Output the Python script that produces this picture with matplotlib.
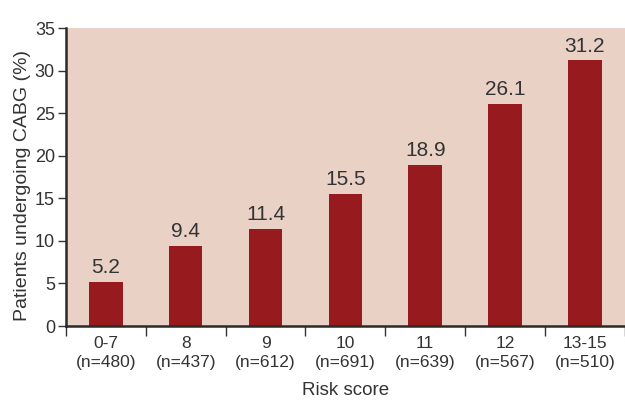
import matplotlib.pyplot as plt
import numpy as np

# CABG rate by risk score group
groups = ["0-7", "8", "9", "10", "11", "12", "13-15"]
counts = [480, 437, 612, 691, 639, 567, 510]
cabg_pct = [5.2, 9.4, 11.4, 15.5, 18.9, 26.1, 31.2]

plt.rcParams['font.family'] = ['Liberation Sans', 'DejaVu Sans']
txt_col = "#333333"

fig = plt.figure(figsize=(6.25, 4.01), dpi=100)
ax = fig.add_axes([0.1056, 0.187, 0.894, 0.743])
ax.set_facecolor("#e9d1c6")

x = np.arange(len(groups))
ax.bar(x, cabg_pct, width=0.42, color="#971a1f", zorder=2)

# value labels above bars
for xi, v in zip(x, cabg_pct):
    ax.text(xi, v + 0.55, "%.1f" % v, ha="center", va="bottom",
            fontsize=15, color=txt_col)

ax.set_xlim(-0.5, len(groups) - 0.5)
ax.set_ylim(0, 35)
ax.set_yticks(range(0, 36, 5))
ax.tick_params(axis="y", labelsize=13, colors=txt_col, length=6, width=1, pad=2)

# category labels at centres, tick marks on the boundaries
ax.set_xticks(x)
ax.set_xticklabels(["%s\n(n=%d)" % (g, n) for g, n in zip(groups, counts)],
                   fontsize=12.5, color=txt_col, linespacing=1.35)
ax.tick_params(axis="x", which="major", length=0, pad=7)
ax.set_xticks(np.arange(-0.5, len(groups), 1.0), minor=True)
ax.tick_params(axis="x", which="minor", length=7, width=1, color=txt_col)

for side in ["top", "right"]:
    ax.spines[side].set_visible(False)
for side in ["left", "bottom"]:
    ax.spines[side].set_linewidth(1.8)
    ax.spines[side].set_color("#2a2a2a")

ax.set_ylabel("Patients undergoing CABG (%)", fontsize=14, color=txt_col)
ax.yaxis.set_label_coords(-0.062, 0.47)
ax.set_xlabel("Risk score", fontsize=13.5, color=txt_col, labelpad=9)

plt.savefig("out.png", dpi=100)
plt.close()
